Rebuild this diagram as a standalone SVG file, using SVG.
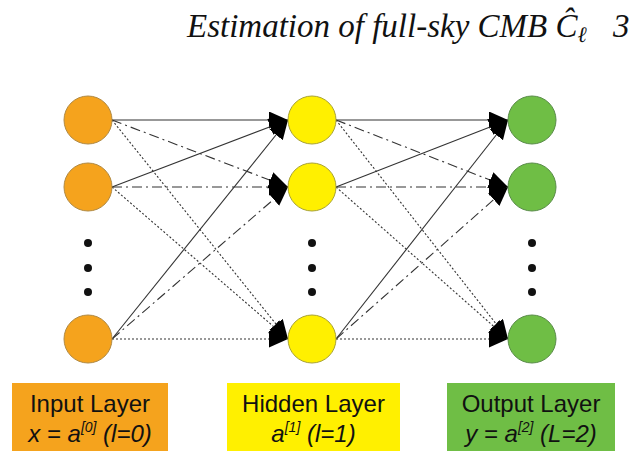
<svg xmlns="http://www.w3.org/2000/svg" width="630" height="456" viewBox="0 0 630 456">
<style>
.in{fill:#F5A31D;stroke:#B08A45;stroke-width:1}
.hid{fill:#FFF000;stroke:#A8A238;stroke-width:1}
.out{fill:#6FBE45;stroke:#5A8C4A;stroke-width:1}
.dot{fill:#111}
.e{fill:none;stroke:#333;stroke-width:1.1;marker-end:url(#ah)}
.dd{stroke-dasharray:10 4 2 4}
.dt{stroke-dasharray:2 2}
.lbl{font-family:"Liberation Sans",Arial,sans-serif;font-size:24px;fill:#111;text-anchor:middle}
.it{font-style:italic}
.hdr{font-family:"Liberation Serif","Times New Roman",serif;font-style:italic;font-size:33px;fill:#111}
</style>
<defs>
<marker id="ah" markerUnits="userSpaceOnUse" markerWidth="21" markerHeight="18" refX="19" refY="8.5" orient="auto">
<path d="M0,0 L19,8.5 L0,17 z" fill="#000"/>
</marker>
</defs>
<rect width="630" height="456" fill="#fff"/>
<g id="header">
<text class="hdr" x="187" y="37">Estimation of full-sky CMB <tspan>Ĉ</tspan><tspan font-size="22" dy="5">ℓ</tspan></text>
<text class="hdr" x="613" y="37" font-style="normal">3</text>
</g>
<g id="connectors">
<line class="e" x1="112" y1="120" x2="288" y2="120"/>
<line class="e dd" x1="112" y1="120" x2="288" y2="187"/>
<line class="e dt" x1="112" y1="120" x2="288" y2="339"/>
<line class="e" x1="112" y1="187" x2="288" y2="120"/>
<line class="e dd" x1="112" y1="187" x2="288" y2="187"/>
<line class="e dt" x1="112" y1="187" x2="288" y2="339"/>
<line class="e" x1="112" y1="339" x2="288" y2="120"/>
<line class="e dd" x1="112" y1="339" x2="288" y2="187"/>
<line class="e dt" x1="112" y1="339" x2="288" y2="339"/>
<line class="e" x1="336" y1="120" x2="508" y2="120"/>
<line class="e dd" x1="336" y1="120" x2="508" y2="187"/>
<line class="e dt" x1="336" y1="120" x2="508" y2="339"/>
<line class="e" x1="336" y1="187" x2="508" y2="120"/>
<line class="e dd" x1="336" y1="187" x2="508" y2="187"/>
<line class="e dt" x1="336" y1="187" x2="508" y2="339"/>
<line class="e" x1="336" y1="339" x2="508" y2="120"/>
<line class="e dd" x1="336" y1="339" x2="508" y2="187"/>
<line class="e dt" x1="336" y1="339" x2="508" y2="339"/>
</g>
<g id="input1"><circle class="in" cx="88" cy="120" r="24"/></g>
<g id="input2"><circle class="in" cx="88" cy="187" r="24"/></g>
<g id="input-dots"><circle class="dot" cx="88" cy="243" r="4"/><circle class="dot" cx="88" cy="268" r="4"/><circle class="dot" cx="88" cy="292" r="4"/></g>
<g id="input3"><circle class="in" cx="88" cy="339" r="24"/></g>
<g id="hidden1"><circle class="hid" cx="312" cy="120" r="24"/></g>
<g id="hidden2"><circle class="hid" cx="312" cy="187" r="24"/></g>
<g id="hidden-dots"><circle class="dot" cx="312" cy="243" r="4"/><circle class="dot" cx="312" cy="268" r="4"/><circle class="dot" cx="312" cy="292" r="4"/></g>
<g id="hidden3"><circle class="hid" cx="312" cy="339" r="24"/></g>
<g id="output1"><circle class="out" cx="532" cy="120" r="24"/></g>
<g id="output2"><circle class="out" cx="532" cy="187" r="24"/></g>
<g id="output-dots"><circle class="dot" cx="532" cy="243" r="4"/><circle class="dot" cx="532" cy="268" r="4"/><circle class="dot" cx="532" cy="292" r="4"/></g>
<g id="output3"><circle class="out" cx="532" cy="339" r="24"/></g>
<g id="input-label">
<rect x="12" y="383" width="156" height="68" fill="#F5A31D"/>
<text class="lbl" x="90" y="412">Input Layer</text>
<text class="lbl it" x="90" y="442">x = a<tspan font-size="14" dy="-10">[0]</tspan><tspan dy="10">  (l=0)</tspan></text>
</g>
<g id="hidden-label">
<rect x="227" y="383" width="173" height="68" fill="#FFF000"/>
<text class="lbl" x="313.5" y="412">Hidden Layer</text>
<text class="lbl it" x="313.5" y="442">a<tspan font-size="14" dy="-10">[1]</tspan><tspan dy="10"> (l=1)</tspan></text>
</g>
<g id="output-label">
<rect x="447" y="383" width="168" height="68" fill="#6FBE45"/>
<text class="lbl" x="531" y="412">Output Layer</text>
<text class="lbl it" x="531" y="442">y = a<tspan font-size="14" dy="-10">[2]</tspan><tspan dy="10"> (L=2)</tspan></text>
</g>
</svg>
